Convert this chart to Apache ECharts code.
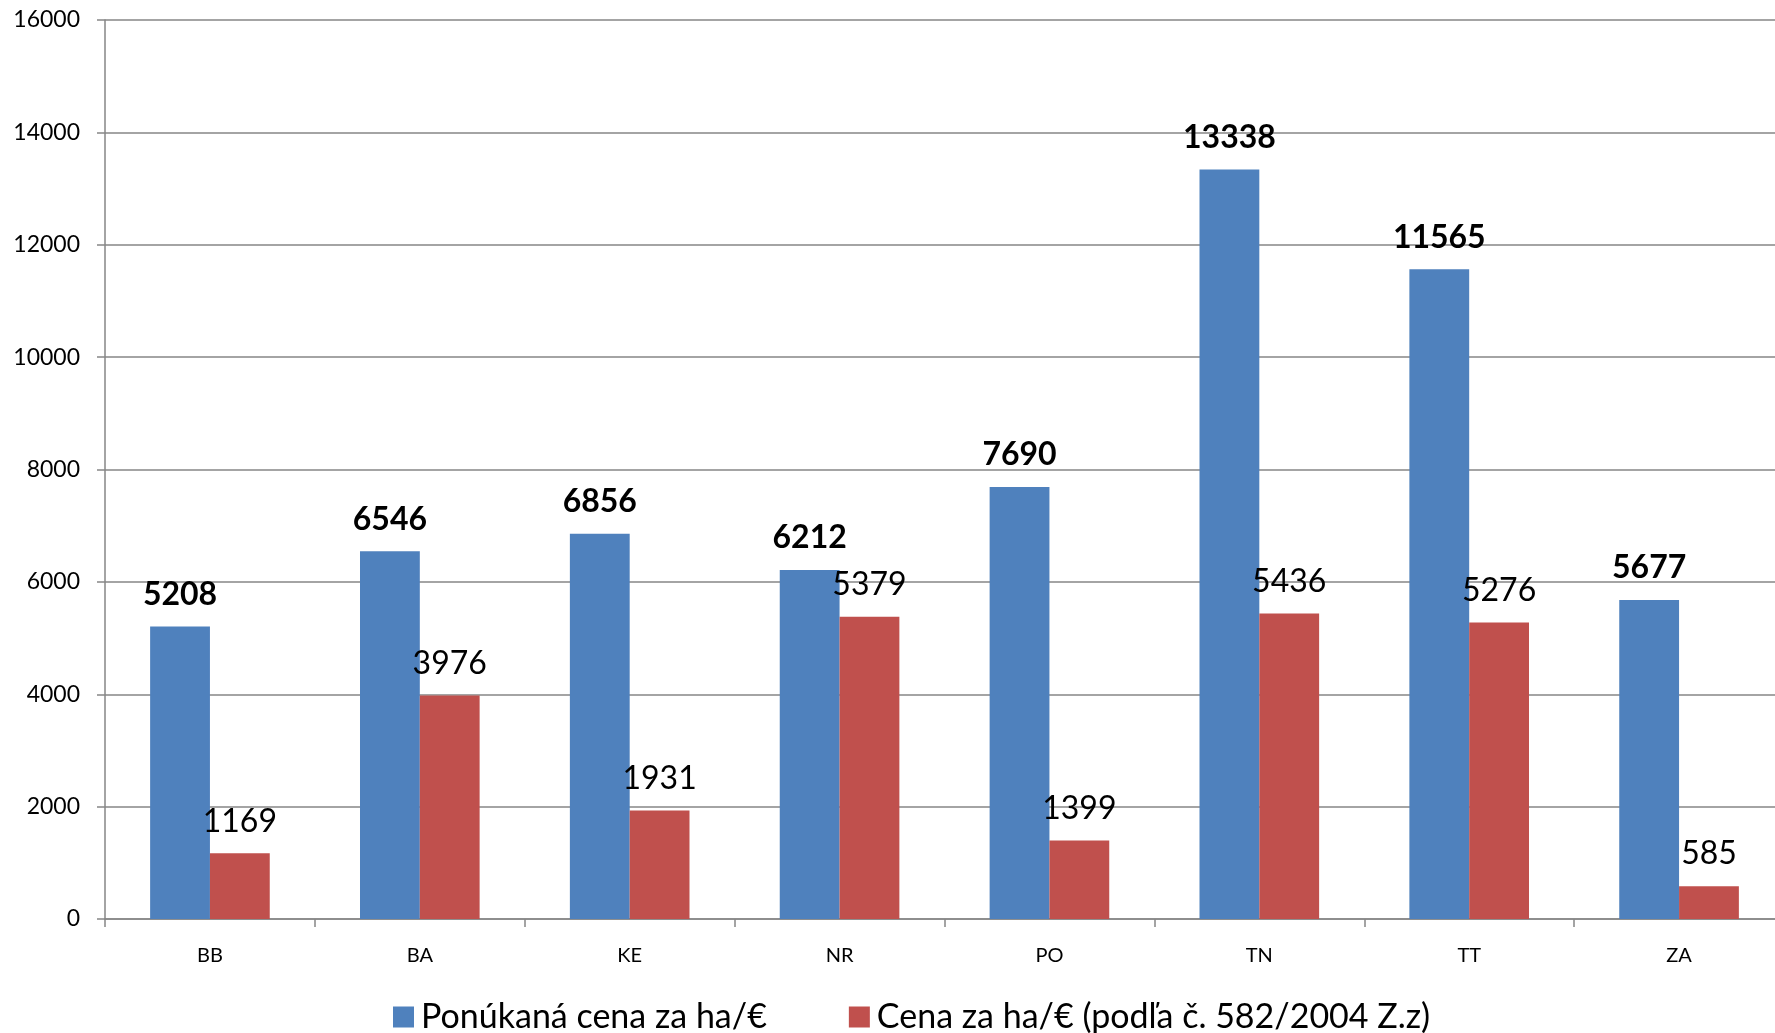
<!DOCTYPE html>
<html>
<head>
<meta charset="utf-8">
<script src="https://cdn.jsdelivr.net/npm/echarts@6/dist/echarts.min.js"></script>
<style>
html,body{margin:0;padding:0;background:#fff;}
#chart{width:1775px;height:1033px;}
</style>
</head>
<body>
<div id="chart"></div>
<script>
const categories = ['BB','BA','KE','NR','PO','TN','TT','ZA'];
const offeredPrice = [5208, 6546, 6856, 6212, 7690, 13338, 11565, 5677];
const lawPrice = [1169, 3976, 1931, 5379, 1399, 5436, 5276, 585];
const seriesNames = ['Ponúkaná cena za ha/€', 'Cena za ha/€ (podľa č. 582/2004 Z.z)'];
const yTicks = { min: 0, max: 16000, interval: 2000 };

const FONT = 'Lato';
const chart = echarts.init(document.getElementById('chart'), null, {renderer:'canvas'});
chart.setOption({
  animation: false,
  backgroundColor: '#ffffff',
  textStyle: { fontFamily: FONT },
  grid: { left: 105, top: 20, width: 1679, height: 899, containLabel: false, outerBoundsMode: 'none' },
  legend: {
    data: seriesNames,
    left: 388,
    top: 995,
    icon: 'rect',
    itemWidth: 21,
    itemHeight: 21,
    itemGap: 82,
    textStyle: { fontFamily: FONT, fontSize: 34, color: '#000', padding: [0,0,0,2] }
  },
  xAxis: {
    type: 'category',
    data: categories,
    axisLine: { lineStyle: { color: '#868686', width: 1.5 } },
    axisTick: { show: true, length: 8, alignWithLabel: false, lineStyle: { color: '#868686', width: 1.5 } },
    axisLabel: { color: '#000', fontFamily: FONT, fontSize: 20, margin: 27 }
  },
  yAxis: {
    type: 'value',
    min: yTicks.min, max: yTicks.max, interval: yTicks.interval,
    axisLine: { show: true, lineStyle: { color: '#868686', width: 1.5 } },
    axisTick: { show: true, length: 8, lineStyle: { color: '#868686', width: 1.5 } },
    splitLine: { show: true, lineStyle: { color: '#868686', width: 1.5 } },
    axisLabel: { color: '#000', fontFamily: FONT, fontSize: 23, margin: 25, formatter: v => String(v) }
  },
  series: [
    {
      name: seriesNames[0], type: 'bar', data: offeredPrice,
      itemStyle: { color: '#4F81BD' },
      barGap: '0%', barCategoryGap: '43%',
      label: { show: true, position: 'top', distance: 16, fontFamily: FONT, fontSize: 32, fontWeight: 'bold', color: '#000' }
    },
    {
      name: seriesNames[1], type: 'bar', data: lawPrice,
      itemStyle: { color: '#C0504D' },
      barGap: '0%', barCategoryGap: '43%',
      label: { show: true, position: 'top', distance: 16, fontFamily: FONT, fontSize: 32, color: '#000' }
    }
  ]
});
</script>
</body>
</html>
